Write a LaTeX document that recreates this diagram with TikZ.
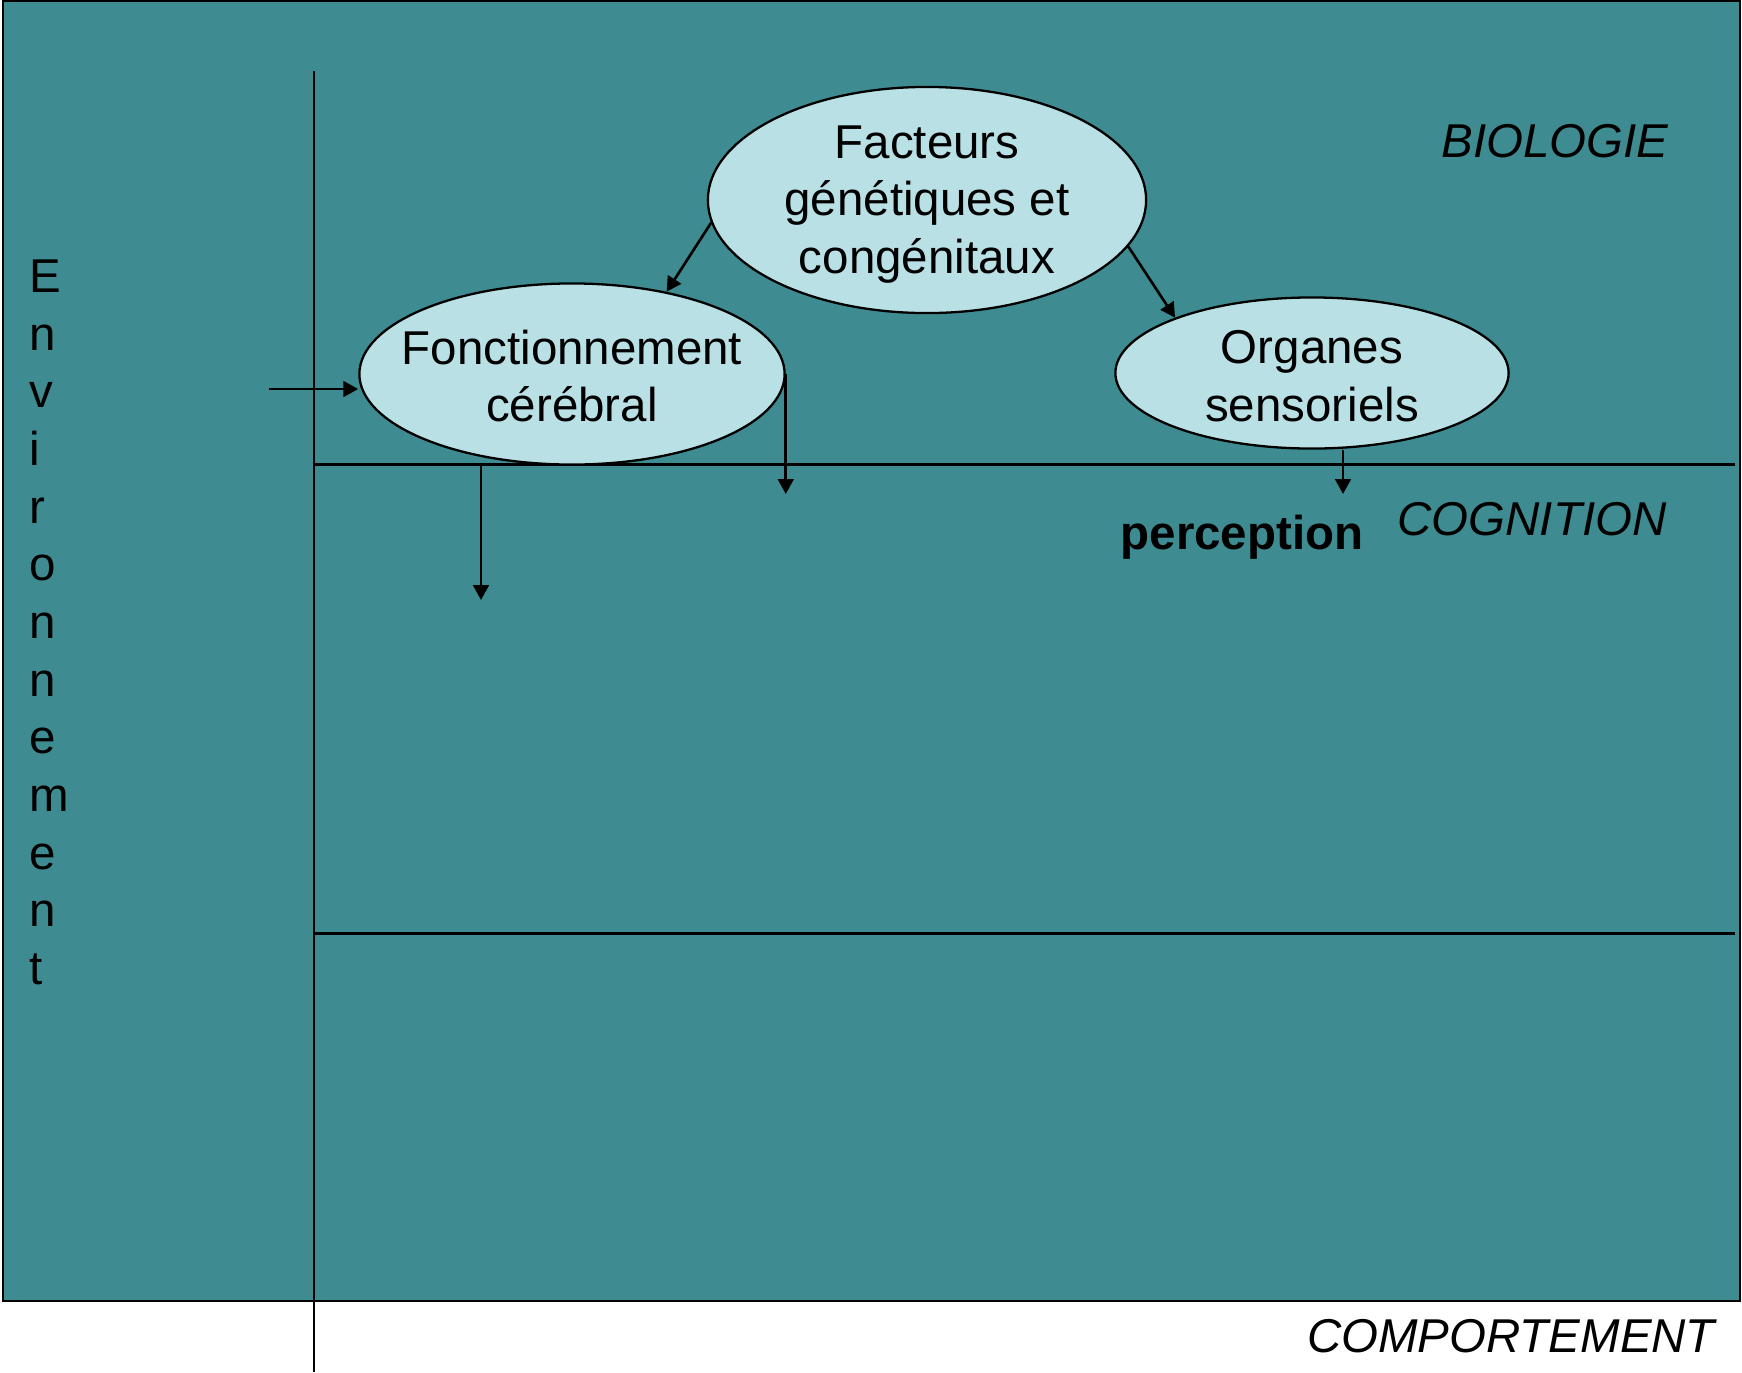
\documentclass[tikz,border=0pt]{standalone}
\usepackage{fontspec}
\setmainfont{Liberation Sans}
\usetikzlibrary{arrows.meta, shapes.geometric}

\definecolor{fondbleu}{RGB}{62,139,145}
\definecolor{bullebleu}{RGB}{185,224,228}

\begin{document}
\begin{tikzpicture}[
		x=0.01cm, y=-0.01cm, % pixel-like units, y pointing down
		font=\fontsize{13.5}{16.4}\selectfont,
		>={Triangle[length=4.2pt, width=4.4pt]},
		axe/.style={line width=0.85pt},
		fleche/.style={->, line width=0.75pt},
		bulle/.style={ellipse, draw, line width=0.65pt, fill=bullebleu, inner sep=0pt},
		domaine/.style={font=\fontsize{13.5}{16.4}\selectfont\itshape}
		]
		
		\useasboundingbox (0,0) rectangle (1742,1372);
		
		% --- 1. Background panel ---
		\draw[fill=fondbleu, line width=0.5pt] (3,1) rectangle (1740,1301);
		
		% --- 2. Axes ---
		\draw[axe] (314,71) -- (314,1372);
		\draw[axe] (314,464) -- (1735,464);
		\draw[axe] (314,933) -- (1735,933);
		
		% --- 3. Bubbles ---
		\node[bulle, minimum width=4.38cm, minimum height=2.26cm,
		label={[align=center, yshift=-0.45mm]center:Facteurs\\génétiques et\\congénitaux}] (gen) at (927,200) {};
		
		\node[bulle, minimum width=4.25cm, minimum height=1.81cm,
		label={[align=center, yshift=-0.2mm]center:Fonctionnement\\cérébral}] (fonc) at (572,374) {};
		
		\node[bulle, minimum width=3.93cm, minimum height=1.51cm,
		label={[align=center, yshift=-0.3mm]center:Organes\\sensoriels}] (org) at (1312,373) {};
		
		% --- 4. Arrows ---
		\draw[fleche] (gen.186) -- (fonc.41);
		\draw[fleche] (gen.347) -- (org.158);
		
		\coordinate (envin) at (269,389);
		\draw[fleche] (envin) -- (envin -| fonc.west);
		
		\coordinate (cogA) at (481,600);
		\coordinate (cogB) at (784,494);
		\coordinate (cogC) at (1343,494);
		\draw[fleche] (cogA |- fonc.south) -- (cogA);
		\draw[fleche] (fonc.east) -- (fonc.east |- cogB);
		\draw[fleche] (cogC |- org.south) -- (cogC);
		
		% --- 5. Labels ---
		\node[domaine] (bio) at (1555,141) {BIOLOGIE};
		\node[domaine] (cog) at (1532,519) {COGNITION};
		\node[font=\fontsize{13.5}{16.4}\selectfont\bfseries] (perc) at (1242,537) {perception};
		\node[domaine] (comp) at (1511,1336) {COMPORTEMENT};
		
		% vertical word, one letter per line
		\node[align=left, anchor=north west, inner sep=0pt] (env) at (29,259)
		{E\\n\\v\\i\\r\\o\\n\\n\\e\\m\\e\\n\\t};
		
	\end{tikzpicture}
\end{document}
